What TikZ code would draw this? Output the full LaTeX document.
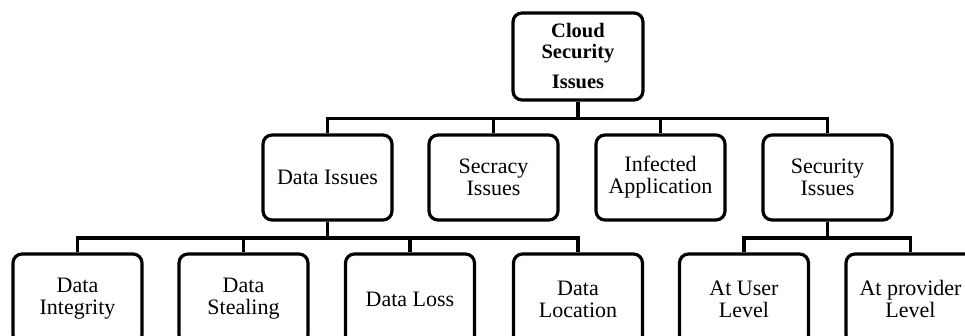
\documentclass[tikz,border=0pt]{standalone}
\usepackage{fontspec}
\setmainfont{Liberation Serif}
\begin{document}
\begin{tikzpicture}[x=1pt,y=-1pt,
  box/.style={draw, line width=3.2pt, rounded corners=9pt, minimum width=129pt, minimum height=85pt, inner sep=0pt, align=center, font=\fontsize{22}{22}\selectfont},
  leaf/.style={box, minimum height=90pt},
  conn/.style={line width=3.2pt}]
\useasboundingbox (0,0) rectangle (965,336);
\clip (0,0) rectangle (965,336);
\node[box, minimum width=130pt, minimum height=87pt, font=\bfseries\fontsize{20.5}{21}\selectfont] (root) at (578,56.5) {Cloud\\Security\\[9pt]Issues};
\node[box] (di) at (327.5,177.5) {Data Issues};
\node[box] (sec) at (493.5,177.5) {Secracy\\Issues};
\node[box] (inf) at (660.5,177.5) {Infected\\Application};
\node[box] (si) at (827.5,177.5) {Security\\Issues};
\node[leaf] (dint) at (77.5,299) {Data\\Integrity};
\node[leaf] (dst) at (243.5,299) {Data\\Stealing};
\node[leaf] (dl) at (410,299) {Data Loss};
\node[leaf] (dloc) at (578,299) {Data\\Location};
\node[leaf] (usr) at (744,299) {At User\\Level};
\node[leaf] (prov) at (910.5,299) {At provider\\Level};
\foreach \c in {di,sec,inf,si}
  \draw[conn] (root.south) -- ++(0,17) -| (\c.north);
\foreach \c in {dint,dst,dl,dloc}
  \draw[conn] (di.south) -- ++(0,16.5) -| (\c.north);
\foreach \c in {usr,prov}
  \draw[conn] (si.south) -- ++(0,16.5) -| (\c.north);
\end{tikzpicture}
\end{document}
